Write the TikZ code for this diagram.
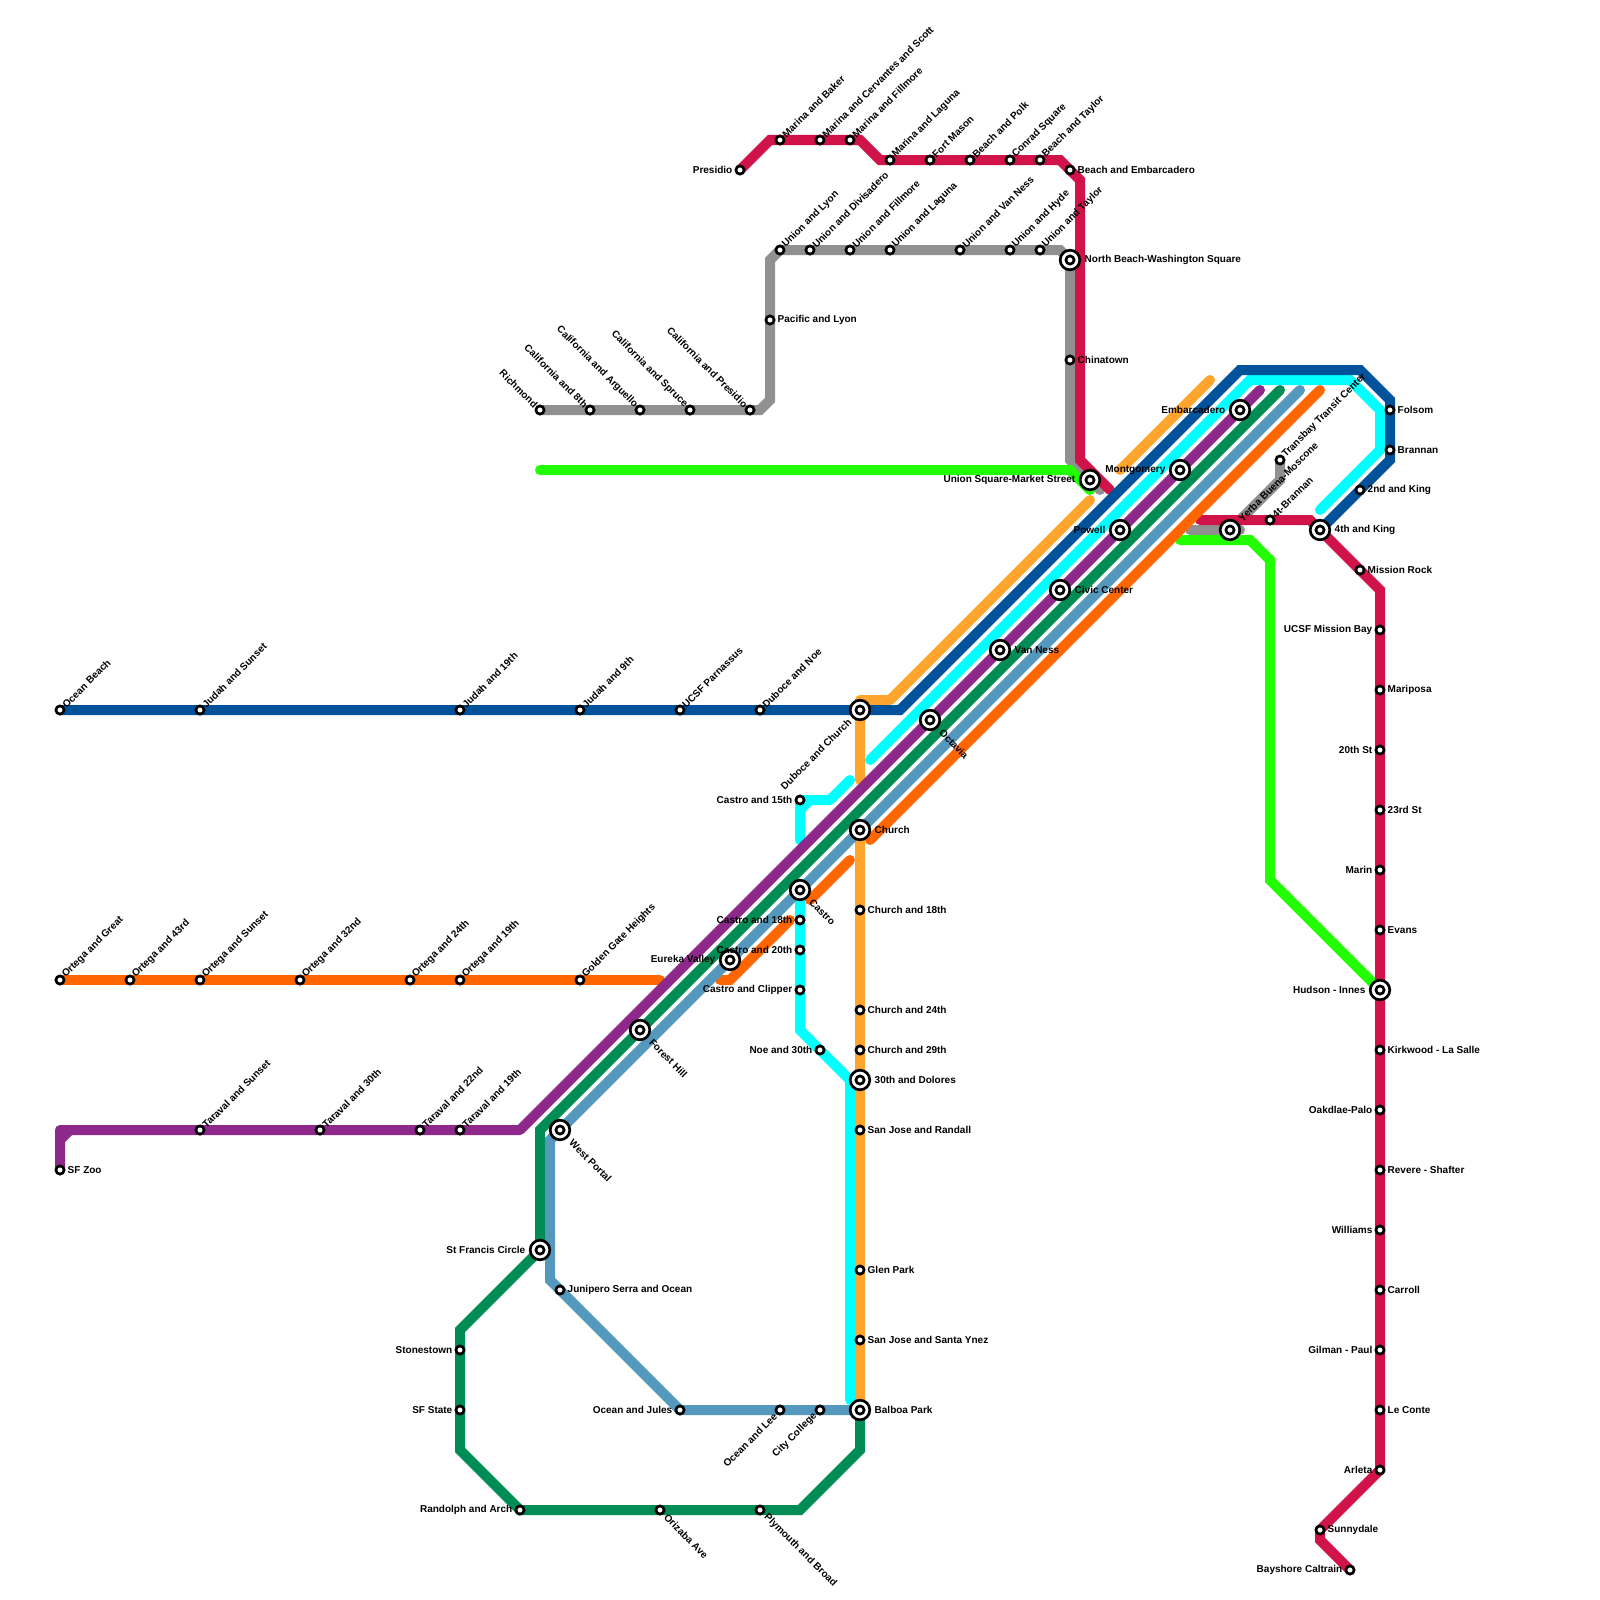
\documentclass[tikz,border=0pt]{standalone}
\usepackage{fontspec}
\setmainfont{Liberation Sans}
\pgfdeclarelayer{lines}
\pgfsetlayers{lines,main}
\definecolor{cBlue}{HTML}{00529B}
\definecolor{cCyan}{HTML}{00FFFF}
\definecolor{cGold}{HTML}{FFA52E}
\definecolor{cOrange}{HTML}{FF6600}
\definecolor{cPurple}{HTML}{8E288A}
\definecolor{cGreen}{HTML}{008C55}
\definecolor{cSteel}{HTML}{5499BD}
\definecolor{cRed}{HTML}{D0144A}
\definecolor{cGrey}{HTML}{909090}
\definecolor{cLime}{HTML}{22FF00}
\tikzset{
  metro/.style={line width=10pt,line cap=round,line join=miter,miter limit=10},
  stopnode/.style={circle,inner sep=0pt,outer sep=0pt,minimum size=8pt},
  ring/.style={draw=black,fill=white,line width=2.7pt},
  lbl/.style={font=\fontsize{10}{12}\selectfont\bfseries,inner ysep=0pt,text=black},
  lR/.style={lbl,anchor=west},
  lL/.style={lbl,anchor=east},
  lNE/.style={lbl,anchor=west,rotate=45},
  lSE/.style={lbl,anchor=west,rotate=-45},
  lSEs/.style={lSE,inner xsep=8pt},
  lSEm/.style={lSE,inner xsep=15.5pt},
  lNW/.style={lbl,anchor=east,rotate=-45},
  lSW/.style={lbl,anchor=east,rotate=45},
  lSWs/.style={lSW,inner xsep=6.5pt},
}
\newcommand\SmallSt[5]{\node[stopnode] (#1) at (#2,#3) {};\draw[ring] (#1.center) circle[radius=4.1pt];\node[inner xsep=7.5pt,#4] (#1L) at (#1.center) {#5};}
\newcommand\SmallDg[5]{\node[stopnode] (#1) at (#2,#3) {};\draw[ring] (#1.center) circle[radius=4.1pt];\node[inner xsep=5.5pt,#4] (#1L) at (#1.center) {#5};}
\newcommand\MajorSt[5]{\node[stopnode] (#1) at (#2,#3) {};\draw[ring] (#1.center) circle[radius=9.8pt];\draw[ring] (#1.center) circle[radius=4.1pt];\node[inner xsep=14.5pt,#4] (#1L) at (#1.center) {#5};}
\begin{document}
\begin{tikzpicture}[x=1pt,y=-1pt]
\useasboundingbox (0,0) rectangle (1600,1600);
% bends and free ends
\foreach \n/\x/\y in {
 bA/900/710,bB/1240/370,bC/1360/370,bD/1390/400,bE/1390/460,
 cA/870/760,cB/1250/380,cC/1350/380,cD/1380/410,cE/1380/450,cF/1320/510,
 cG/800/840,cH/800/810,cI/810/800,cJ/830/800,cK/850/780,
 cL/800/1030,cM/850/1080,cN/850/1400,
 gA/1210/380,gB/1120/470,gC/1090/500,gD/890/700,gE/860/700,gF/860/780,
 pA/60/1140,pB/70/1130,pE/60/1130,pC/520/1130,pD/1260/390,
 dA/1280/390,dB/540/1130,dC/460/1330,dD/460/1450,dE/800/1510,dF/860/1450,
 sA/1300/390,sB/550/1140,sC/550/1280,
 oA/1320/390,oB/870/840,oC/850/860,oD/810/900,oE/790/920,oF/730/980,oG/720/980,oH/660/980,
 rA/770/140,rB/860/140,rC/880/160,rD/1060/160,rE/1080/180,rF/1080/460,rG/1110/490,
 rH/1200/520,rI/1310/520,rJ/1380/590,rK/1320/1540,
 lA/540/470,lB/1070/470,lC/1090/490,lD/1180/540,lE/1250/540,lF/1270/560,lG/1270/880,
 yA/760/410,yB/770/400,yC/770/260,yD/780/250,yE/1060/250,yK/1070/260,yF/1070/460,yG/1100/490,
 yH/1190/530,yI/1240/530,yJ/1280/480}
 {\coordinate (\n) at (\x,\y);}
% stations
\SmallDg{oBeach}{60}{710}{lNE}{Ocean Beach}
\SmallDg{jSunset}{200}{710}{lNE}{Judah and Sunset}
\SmallDg{jNineteen}{460}{710}{lNE}{Judah and 19th}
\SmallDg{jNine}{580}{710}{lNE}{Judah and 9th}
\SmallDg{ucsfP}{680}{710}{lNE}{UCSF Parnassus}
\SmallDg{dNoe}{760}{710}{lNE}{Duboce and Noe}
\MajorSt{dChurch}{860}{710}{lSW}{Duboce and Church}
\SmallDg{ogGreat}{60}{980}{lNE}{Ortega and Great}
\SmallDg{og43}{130}{980}{lNE}{Ortega and 43rd}
\SmallDg{ogSunset}{200}{980}{lNE}{Ortega and Sunset}
\SmallDg{og32}{300}{980}{lNE}{Ortega and 32nd}
\SmallDg{og24}{410}{980}{lNE}{Ortega and 24th}
\SmallDg{og19}{460}{980}{lNE}{Ortega and 19th}
\SmallDg{ggh}{580}{980}{lNE}{Golden Gate Heights}
\SmallDg{tSunset}{200}{1130}{lNE}{Taraval and Sunset}
\SmallDg{t30}{320}{1130}{lNE}{Taraval and 30th}
\SmallDg{t22}{420}{1130}{lNE}{Taraval and 22nd}
\SmallDg{t19}{460}{1130}{lNE}{Taraval and 19th}
\SmallSt{zoo}{60}{1170}{lR}{SF Zoo}
\MajorSt{westP}{560}{1130}{lSEm}{West Portal}
\MajorSt{forest}{640}{1030}{lSEm}{Forest Hill}
\MajorSt{eureka}{730}{960}{lL}{Eureka Valley}
\MajorSt{castro}{800}{890}{lSEm}{Castro}
\MajorSt{church}{860}{830}{lR}{Church}
\MajorSt{octavia}{930}{720}{lSEm}{Octavia}
\MajorSt{vanNess}{1000}{650}{lR}{Van Ness}
\MajorSt{civic}{1060}{590}{lR}{Civic Center}
\MajorSt{powell}{1120}{530}{lL}{Powell}
\MajorSt{montg}{1180}{470}{lL}{Montgomery}
\MajorSt{embarc}{1240}{410}{lL}{Embarcadero}
\MajorSt{unionSq}{1090}{480}{lL}{Union Square-Market Street}
\MajorSt{nBeach}{1070}{260}{lR}{North Beach-Washington Square}
\MajorSt{yerba}{1230}{530}{lNE}{Yerba Buena-Moscone}
\MajorSt{fourth}{1320}{530}{lR}{4th and King}
\MajorSt{hudson}{1380}{990}{lL}{Hudson - Innes}
\MajorSt{dolores}{860}{1080}{lR}{30th and Dolores}
\MajorSt{balboa}{860}{1410}{lR}{Balboa Park}
\MajorSt{stFrancis}{540}{1250}{lL}{St Francis Circle}
\SmallSt{c15}{800}{800}{lL}{Castro and 15th}
\SmallSt{c18}{800}{920}{lL}{Castro and 18th}
\SmallSt{c20}{800}{950}{lL}{Castro and 20th}
\SmallSt{cClip}{800}{990}{lL}{Castro and Clipper}
\SmallSt{n30}{820}{1050}{lL}{Noe and 30th}
\SmallSt{ch18}{860}{910}{lR}{Church and 18th}
\SmallSt{ch24}{860}{1010}{lR}{Church and 24th}
\SmallSt{ch29}{860}{1050}{lR}{Church and 29th}
\SmallSt{sjR}{860}{1130}{lR}{San Jose and Randall}
\SmallSt{glen}{860}{1270}{lR}{Glen Park}
\SmallSt{sjS}{860}{1340}{lR}{San Jose and Santa Ynez}
\SmallSt{junip}{560}{1290}{lR}{Junipero Serra and Ocean}
\SmallSt{oJules}{680}{1410}{lL}{Ocean and Jules}
\SmallDg{oLee}{780}{1410}{lSWs}{Ocean and Lee}
\SmallDg{cityC}{820}{1410}{lSWs}{City College}
\SmallSt{stone}{460}{1350}{lL}{Stonestown}
\SmallSt{sfState}{460}{1410}{lL}{SF State}
\SmallSt{randA}{520}{1510}{lL}{Randolph and Arch}
\SmallDg{oriz}{660}{1510}{lSEs}{Orizaba Ave}
\SmallDg{plym}{760}{1510}{lSEs}{Plymouth and Broad}
\SmallDg{transb}{1280}{460}{lNE}{Transbay Transit Center}
\SmallDg{fourB}{1270}{520}{lNE}{4t-Brannan}
\SmallSt{second}{1360}{490}{lR}{2nd and King}
\SmallSt{folsom}{1390}{410}{lR}{Folsom}
\SmallSt{brannan}{1390}{450}{lR}{Brannan}
\SmallSt{mission}{1360}{570}{lR}{Mission Rock}
\SmallSt{ucsfM}{1380}{630}{lL}{UCSF Mission Bay}
\SmallSt{marip}{1380}{690}{lR}{Mariposa}
\SmallSt{st20}{1380}{750}{lL}{20th St}
\SmallSt{st23}{1380}{810}{lR}{23rd St}
\SmallSt{marin}{1380}{870}{lL}{Marin}
\SmallSt{evans}{1380}{930}{lR}{Evans}
\SmallSt{kirk}{1380}{1050}{lR}{Kirkwood - La Salle}
\SmallSt{oakd}{1380}{1110}{lL}{Oakdlae-Palo}
\SmallSt{revere}{1380}{1170}{lR}{Revere - Shafter}
\SmallSt{will}{1380}{1230}{lL}{Williams}
\SmallSt{carr}{1380}{1290}{lR}{Carroll}
\SmallSt{gilman}{1380}{1350}{lL}{Gilman - Paul}
\SmallSt{leC}{1380}{1410}{lR}{Le Conte}
\SmallSt{arleta}{1380}{1470}{lL}{Arleta}
\SmallSt{sunny}{1320}{1530}{lR}{Sunnydale}
\SmallSt{baysh}{1350}{1570}{lL}{Bayshore Caltrain}
\SmallSt{chinat}{1070}{360}{lR}{Chinatown}
\SmallSt{bEmb}{1070}{170}{lR}{Beach and Embarcadero}
\SmallSt{presidio}{740}{170}{lL}{Presidio}
\SmallDg{mBaker}{780}{140}{lNE}{Marina and Baker}
\SmallDg{mCerv}{820}{140}{lNE}{Marina and Cervantes and Scott}
\SmallDg{mFill}{850}{140}{lNE}{Marina and Fillmore}
\SmallDg{mLag}{890}{160}{lNE}{Marina and Laguna}
\SmallDg{fMason}{930}{160}{lNE}{Fort Mason}
\SmallDg{bPolk}{970}{160}{lNE}{Beach and Polk}
\SmallDg{conrad}{1010}{160}{lNE}{Conrad Square}
\SmallDg{bTaylor}{1040}{160}{lNE}{Beach and Taylor}
\SmallDg{uLyon}{780}{250}{lNE}{Union and Lyon}
\SmallDg{uDiv}{810}{250}{lNE}{Union and Divisadero}
\SmallDg{uFill}{850}{250}{lNE}{Union and Fillmore}
\SmallDg{uLag}{890}{250}{lNE}{Union and Laguna}
\SmallDg{uVN}{960}{250}{lNE}{Union and Van Ness}
\SmallDg{uHyde}{1010}{250}{lNE}{Union and Hyde}
\SmallDg{uTaylor}{1040}{250}{lNE}{Union and Taylor}
\SmallSt{pacific}{770}{320}{lR}{Pacific and Lyon}
\SmallDg{richm}{540}{410}{lNW}{Richmond}
\SmallDg{cal8}{590}{410}{lNW}{California and 8th}
\SmallDg{calA}{640}{410}{lNW}{California and Arguello}
\SmallDg{calS}{690}{410}{lNW}{California and Spruce}
\SmallDg{calP}{750}{410}{lNW}{California and Presidio}
% lines
\begin{pgfonlayer}{lines}
\fill[white] (0,0) rectangle (1600,1600);
\draw[metro,cGrey] (richm.center)--(yA)--(yB)--(yC)--(yD)--(yE)--(yK)--(yF)--(yG);
\draw[metro,cGrey] (yH)--(yI);
\draw[metro,cGrey] (transb.center)--(yJ)--(yerba.center);
\draw[metro,cLime] (lA)--(lB)--(lC);
\draw[metro,cLime] (lD)--(lE)--(lF)--(lG)--(hudson.center);
\draw[metro,cRed] (presidio.center)--(rA)--(rB)--(rC)--(rD)--(rE)--(rF)--(rG);
\draw[metro,cRed] (rH)--(rI)--(rJ)--(arleta.center)--(sunny.center)--(rK)--(baysh.center);
\draw[metro,cGold] (gA)--(gB);
\draw[metro,cGold,line join=round] (gC)--(gD)--(gE)--(gF);
\draw[metro,cOrange] (ogGreat.center)--(oH);
\draw[metro,cOrange] (oA)--(oB);
\draw[metro,cOrange] (oC)--(oD);
\draw[metro,cOrange] (oE)--(oF)--(oG);
\draw[metro,cCyan] (cA)--(cB)--(cC)--(cD)--(cE)--(cF);
\draw[metro,cCyan,line join=round] (cG)--(c15.center)--(cJ)--(cK);
\draw[metro,cCyan] (cH)--(cI);
\draw[metro,cCyan] (castro.center)--(cL)--(cM)--(cN);
\draw[metro,cGold] (church.center)--(balboa.center);
\draw[metro,cGreen] (dA)--(dB)--(stFrancis.center)--(dC)--(dD)--(randA.center)--(dE)--(dF)--(balboa.center);
\draw[metro,cSteel] (sA)--(sB)--(sC)--(oJules.center)--(balboa.center);
\draw[metro,cPurple,line join=round] (zoo.center)--(pE)--(pC)--(pD);
\draw[metro,cPurple] (pA)--(pB);
\draw[metro,cBlue] (oBeach.center)--(bA)--(bB)--(bC)--(bD)--(bE)--(fourth.center);
\end{pgfonlayer}
\end{tikzpicture}
\end{document}
